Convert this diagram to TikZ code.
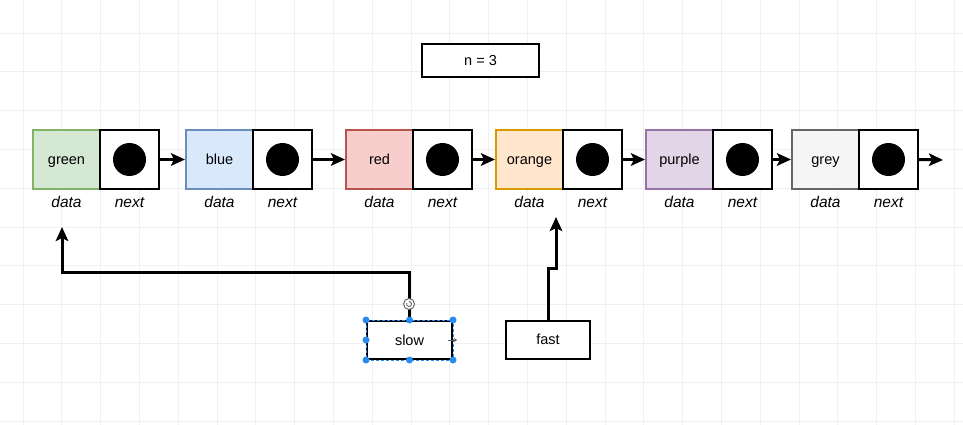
\documentclass[tikz,border=0pt]{standalone}
\usepackage{fontspec}
\setmainfont{Liberation Sans}
\usetikzlibrary{arrows.meta,positioning}
\definecolor{gfill}{HTML}{D5E8D4}\definecolor{gline}{HTML}{82B366}
\definecolor{bfill}{HTML}{DAE8FC}\definecolor{bline}{HTML}{6C8EBF}
\definecolor{rfill}{HTML}{F8CECC}\definecolor{rline}{HTML}{B85450}
\definecolor{ofill}{HTML}{FFE6CC}\definecolor{oline}{HTML}{D79B00}
\definecolor{pfill}{HTML}{E1D5E7}\definecolor{pline}{HTML}{9673A6}
\definecolor{yfill}{HTML}{F5F5F5}\definecolor{yline}{HTML}{666666}
\definecolor{gridc}{HTML}{F0F0F0}
\definecolor{selblue}{HTML}{2A8CF0}
\tikzset{
  databox/.style={draw, line width=2pt, minimum width=67pt, minimum height=59pt, inner sep=0pt, outer sep=0pt,
    text height=10.5pt, text depth=0pt,
    anchor=north west, font=\fontsize{14.5}{17}\selectfont},
  nextbox/.style={draw=black, fill=white, line width=2pt, minimum width=59pt, minimum height=59pt, inner sep=0pt, outer sep=0pt, anchor=west},
  dot/.style={circle, fill=black, minimum size=33pt, inner sep=0pt},
  lbl/.style={font=\fontsize{15.5}{18}\selectfont\itshape, inner sep=0pt, text height=11pt, text depth=0pt},
  arr/.style={line width=3pt, -{Stealth[length=14pt,width=12.5pt,inset=3pt]}},
  plain/.style={draw=black, fill=white, line width=2pt, inner sep=0pt, text height=10.5pt, text depth=0pt,
    font=\fontsize{14.5}{17}\selectfont},
  handle/.style={circle, fill=selblue, minimum size=7pt, inner sep=0pt},
}
\begin{document}
\begin{tikzpicture}[x=1pt,y=-1pt]
\useasboundingbox (0,0) rectangle (963,425);
\fill[white] (0,0) rectangle (963,425);
% grid
\foreach \i in {0,...,24} \draw[gridc, line width=0.7pt] (23+38.8*\i,0) -- (23+38.8*\i,425);
\foreach \j in {0,...,10} \draw[gridc, line width=0.7pt] (0,33+38.8*\j) -- (963,33+38.8*\j);

% n = 3
\node[plain, minimum width=117pt, minimum height=33pt] (nbox) at (480.5,60.5) {n = 3};

% list nodes
\foreach \k/\x/\txt/\fc/\lc in {1/33/green/gfill/gline, 2/186/blue/bfill/bline, 3/346/red/rfill/rline,
                                4/496/orange/ofill/oline, 5/646/purple/pfill/pline, 6/792/grey/yfill/yline} {
  \node[databox, fill=\fc, draw=\lc] (d\k) at (\x,130) {\txt};
  \node[nextbox] (n\k) at (d\k.east) {};
  \node[dot] (c\k) at (n\k.center) {};
  \node[lbl] (ld\k) at ([yshift=-13pt]d\k.south) {data};
  \node[lbl] (ln\k) at ([yshift=-13pt]n\k.south) {next};
}
\foreach \a/\b in {1/2,2/3,3/4,4/5,5/6}
  \draw[arr] ([xshift=1pt]n\a.east) -- ([xshift=-1pt]d\b.west);
\coordinate (endp) at (943,160);
\draw[arr] ([xshift=1pt]n6.east) -- (endp);

% slow / fast
\node[plain, minimum width=85pt, minimum height=38pt] (slow) at (409.5,340) {slow};
\node[plain, minimum width=84pt, minimum height=38pt] (fast) at (548,339.5) {fast};

\coordinate (stip) at (62,227);
\coordinate (ftip) at (556,217);
\draw[arr] (slow.north) -- ++(0,-48) -| (stip);
\draw[arr] (fast.north) -- ++(0,-51) -| (ftip);

% selection overlay on slow
\draw[selblue, line width=1pt, dash pattern=on 3pt off 2pt] (slow.north west) rectangle (slow.south east);
\foreach \p in {north west,north,north east,west,south west,south,south east}
  \node[handle] at (slow.\p) {};
\node[circle, draw=gray!80!black, fill=white, line width=1pt, minimum size=11pt, inner sep=0pt] (rot) at (409,304) {};
\draw[gray!80!black, line width=0.9pt] (rot.center) ++(0,-2.5) arc (-90:200:2.5);
\draw[gray!70!black, line width=0.9pt, -{Stealth[length=3pt,width=4pt]}] ([xshift=-5pt]slow.east) -- ([xshift=4pt]slow.east);
\end{tikzpicture}
\end{document}
